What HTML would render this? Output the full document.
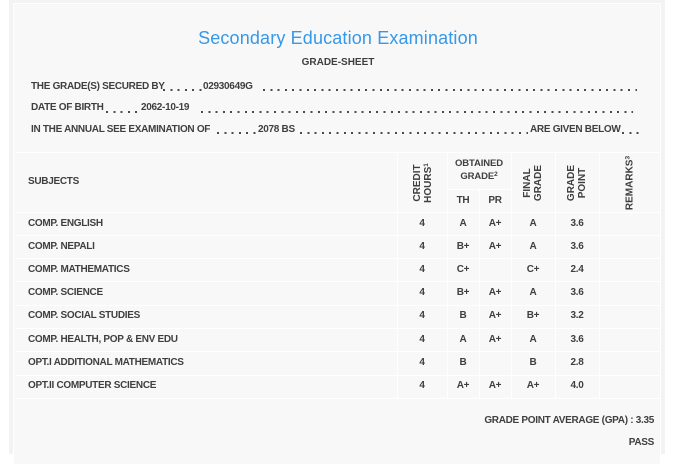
<!DOCTYPE html>
<html><head><meta charset="utf-8">
<style>
html,body{margin:0;padding:0;background:#fff;}
body{width:673px;height:454px;position:relative;overflow:hidden;font-family:"Liberation Sans",Arial,sans-serif;color:#444;}
.outer{position:absolute;left:9px;top:0;width:656px;height:454px;background:#f3f3f3;}
.panel{position:absolute;left:13px;top:3px;width:646px;height:460px;background:#f8f8f8;border:1px solid #fff;}
.t{position:absolute;white-space:nowrap;line-height:12px;height:12px;font-size:10px;font-weight:bold;letter-spacing:-0.3px;color:#3f3f3f;}
.c{width:60px;text-align:center;margin-left:-30px;}
.d{position:absolute;height:2px;background:repeating-linear-gradient(90deg,#4a4a4a 0 2px,transparent 2px 7.3px);}
.h{position:absolute;height:1px;background:#fff;}
.v{position:absolute;width:1px;background:#fff;}
.r{position:absolute;font-size:10px;font-weight:bold;line-height:11px;letter-spacing:0px;color:#3f3f3f;text-align:center;white-space:nowrap;transform:translate(-50%,-50%) rotate(-90deg);}
sup{font-size:6.5px;vertical-align:top;position:relative;top:-2px;}
</style></head><body>
<div class="outer"></div>
<div class="panel"></div>

<div style="position:absolute;left:0;width:676px;top:27px;text-align:center;font-size:18px;line-height:22px;color:#3598e8;letter-spacing:0.15px;">Secondary Education Examination</div>
<div class="t" style="left:0;width:676px;text-align:center;top:57px;letter-spacing:0;">GRADE-SHEET</div>

<div class="t" style="left:31px;top:81px;">THE GRADE(S) SECURED BY</div>
<div class="d" style="left:163px;top:89px;width:39px;"></div>
<div class="t" style="left:203px;top:81px;">02930649G</div>
<div class="d" style="left:263px;top:89px;width:374px;"></div>

<div class="t" style="left:31px;top:102px;">DATE OF BIRTH</div>
<div class="d" style="left:106px;top:110.5px;width:32px;"></div>
<div class="t" style="left:141px;top:102px;">2062-10-19</div>
<div class="d" style="left:201px;top:110.5px;width:432px;"></div>

<div class="t" style="left:31px;top:124px;">IN THE ANNUAL SEE EXAMINATION OF</div>
<div class="d" style="left:217px;top:132px;width:39px;"></div>
<div class="t" style="left:258px;top:124px;">2078 BS</div>
<div class="d" style="left:300px;top:132px;width:228px;"></div>
<div class="t" style="left:530px;top:124px;">ARE GIVEN BELOW</div>
<div class="d" style="left:622px;top:132px;width:17px;"></div>

<!-- table lines -->
<div class="h" style="left:15px;width:645px;top:152px;"></div>
<div class="h" style="left:447px;width:64px;top:189px;"></div>
<div class="h" style="left:15px;width:645px;top:212px;"></div>
<div class="h" style="left:15px;width:645px;top:235px;"></div>
<div class="h" style="left:15px;width:645px;top:258px;"></div>
<div class="h" style="left:15px;width:645px;top:281px;"></div>
<div class="h" style="left:15px;width:645px;top:305px;"></div>
<div class="h" style="left:15px;width:645px;top:328px;"></div>
<div class="h" style="left:15px;width:645px;top:351px;"></div>
<div class="h" style="left:15px;width:645px;top:375px;"></div>
<div class="h" style="left:15px;width:645px;top:398px;"></div>

<div class="v" style="left:397px;top:152px;height:246px;"></div>
<div class="v" style="left:447px;top:152px;height:246px;"></div>
<div class="v" style="left:479px;top:189px;height:209px;"></div>
<div class="v" style="left:511px;top:152px;height:246px;"></div>
<div class="v" style="left:555px;top:152px;height:246px;"></div>
<div class="v" style="left:599px;top:152px;height:246px;"></div>
<div class="v" style="left:660px;top:152px;height:246px;"></div>

<!-- header -->
<div class="t" style="left:28px;top:176px;">SUBJECTS</div>
<div class="r" style="left:423px;top:183px;">CREDIT<br>HOURS<sup>1</sup></div>
<div class="t c" style="left:479px;top:158px;font-size:9.5px;letter-spacing:-0.1px;">OBTAINED</div>
<div class="t c" style="left:479px;top:171px;font-size:9.5px;letter-spacing:-0.1px;">GRADE<sup>2</sup></div>
<div class="t c" style="left:463px;top:195px;">TH</div>
<div class="t c" style="left:495px;top:195px;">PR</div>
<div class="r" style="left:533px;top:183px;">FINAL<br>GRADE</div>
<div class="r" style="left:577px;top:183px;">GRADE<br>POINT</div>
<div class="r" style="left:630px;top:183px;">REMARKS<sup>3</sup></div>

<!-- rows -->
<div class="t" style="left:28px;top:218px;">COMP. ENGLISH</div>
<div class="t c" style="left:422px;top:218px;">4</div><div class="t c" style="left:463px;top:218px;">A</div><div class="t c" style="left:495px;top:218px;">A+</div><div class="t c" style="left:533px;top:218px;">A</div><div class="t c" style="left:577px;top:218px;">3.6</div>

<div class="t" style="left:28px;top:241px;">COMP. NEPALI</div>
<div class="t c" style="left:422px;top:241px;">4</div><div class="t c" style="left:463px;top:241px;">B+</div><div class="t c" style="left:495px;top:241px;">A+</div><div class="t c" style="left:533px;top:241px;">A</div><div class="t c" style="left:577px;top:241px;">3.6</div>

<div class="t" style="left:28px;top:264px;">COMP. MATHEMATICS</div>
<div class="t c" style="left:422px;top:264px;">4</div><div class="t c" style="left:463px;top:264px;">C+</div><div class="t c" style="left:533px;top:264px;">C+</div><div class="t c" style="left:577px;top:264px;">2.4</div>

<div class="t" style="left:28px;top:287px;">COMP. SCIENCE</div>
<div class="t c" style="left:422px;top:287px;">4</div><div class="t c" style="left:463px;top:287px;">B+</div><div class="t c" style="left:495px;top:287px;">A+</div><div class="t c" style="left:533px;top:287px;">A</div><div class="t c" style="left:577px;top:287px;">3.6</div>

<div class="t" style="left:28px;top:310px;">COMP. SOCIAL STUDIES</div>
<div class="t c" style="left:422px;top:310px;">4</div><div class="t c" style="left:463px;top:310px;">B</div><div class="t c" style="left:495px;top:310px;">A+</div><div class="t c" style="left:533px;top:310px;">B+</div><div class="t c" style="left:577px;top:310px;">3.2</div>

<div class="t" style="left:28px;top:334px;">COMP. HEALTH, POP &amp; ENV EDU</div>
<div class="t c" style="left:422px;top:334px;">4</div><div class="t c" style="left:463px;top:334px;">A</div><div class="t c" style="left:495px;top:334px;">A+</div><div class="t c" style="left:533px;top:334px;">A</div><div class="t c" style="left:577px;top:334px;">3.6</div>

<div class="t" style="left:28px;top:357px;">OPT.I ADDITIONAL MATHEMATICS</div>
<div class="t c" style="left:422px;top:357px;">4</div><div class="t c" style="left:463px;top:357px;">B</div><div class="t c" style="left:533px;top:357px;">B</div><div class="t c" style="left:577px;top:357px;">2.8</div>

<div class="t" style="left:28px;top:380px;">OPT.II COMPUTER SCIENCE</div>
<div class="t c" style="left:422px;top:380px;">4</div><div class="t c" style="left:463px;top:380px;">A+</div><div class="t c" style="left:495px;top:380px;">A+</div><div class="t c" style="left:533px;top:380px;">A+</div><div class="t c" style="left:577px;top:380px;">4.0</div>

<div class="t" style="right:19px;top:415px;">GRADE POINT AVERAGE (GPA) : 3.35</div>
<div class="t" style="right:19px;top:437px;">PASS</div>
</body></html>
